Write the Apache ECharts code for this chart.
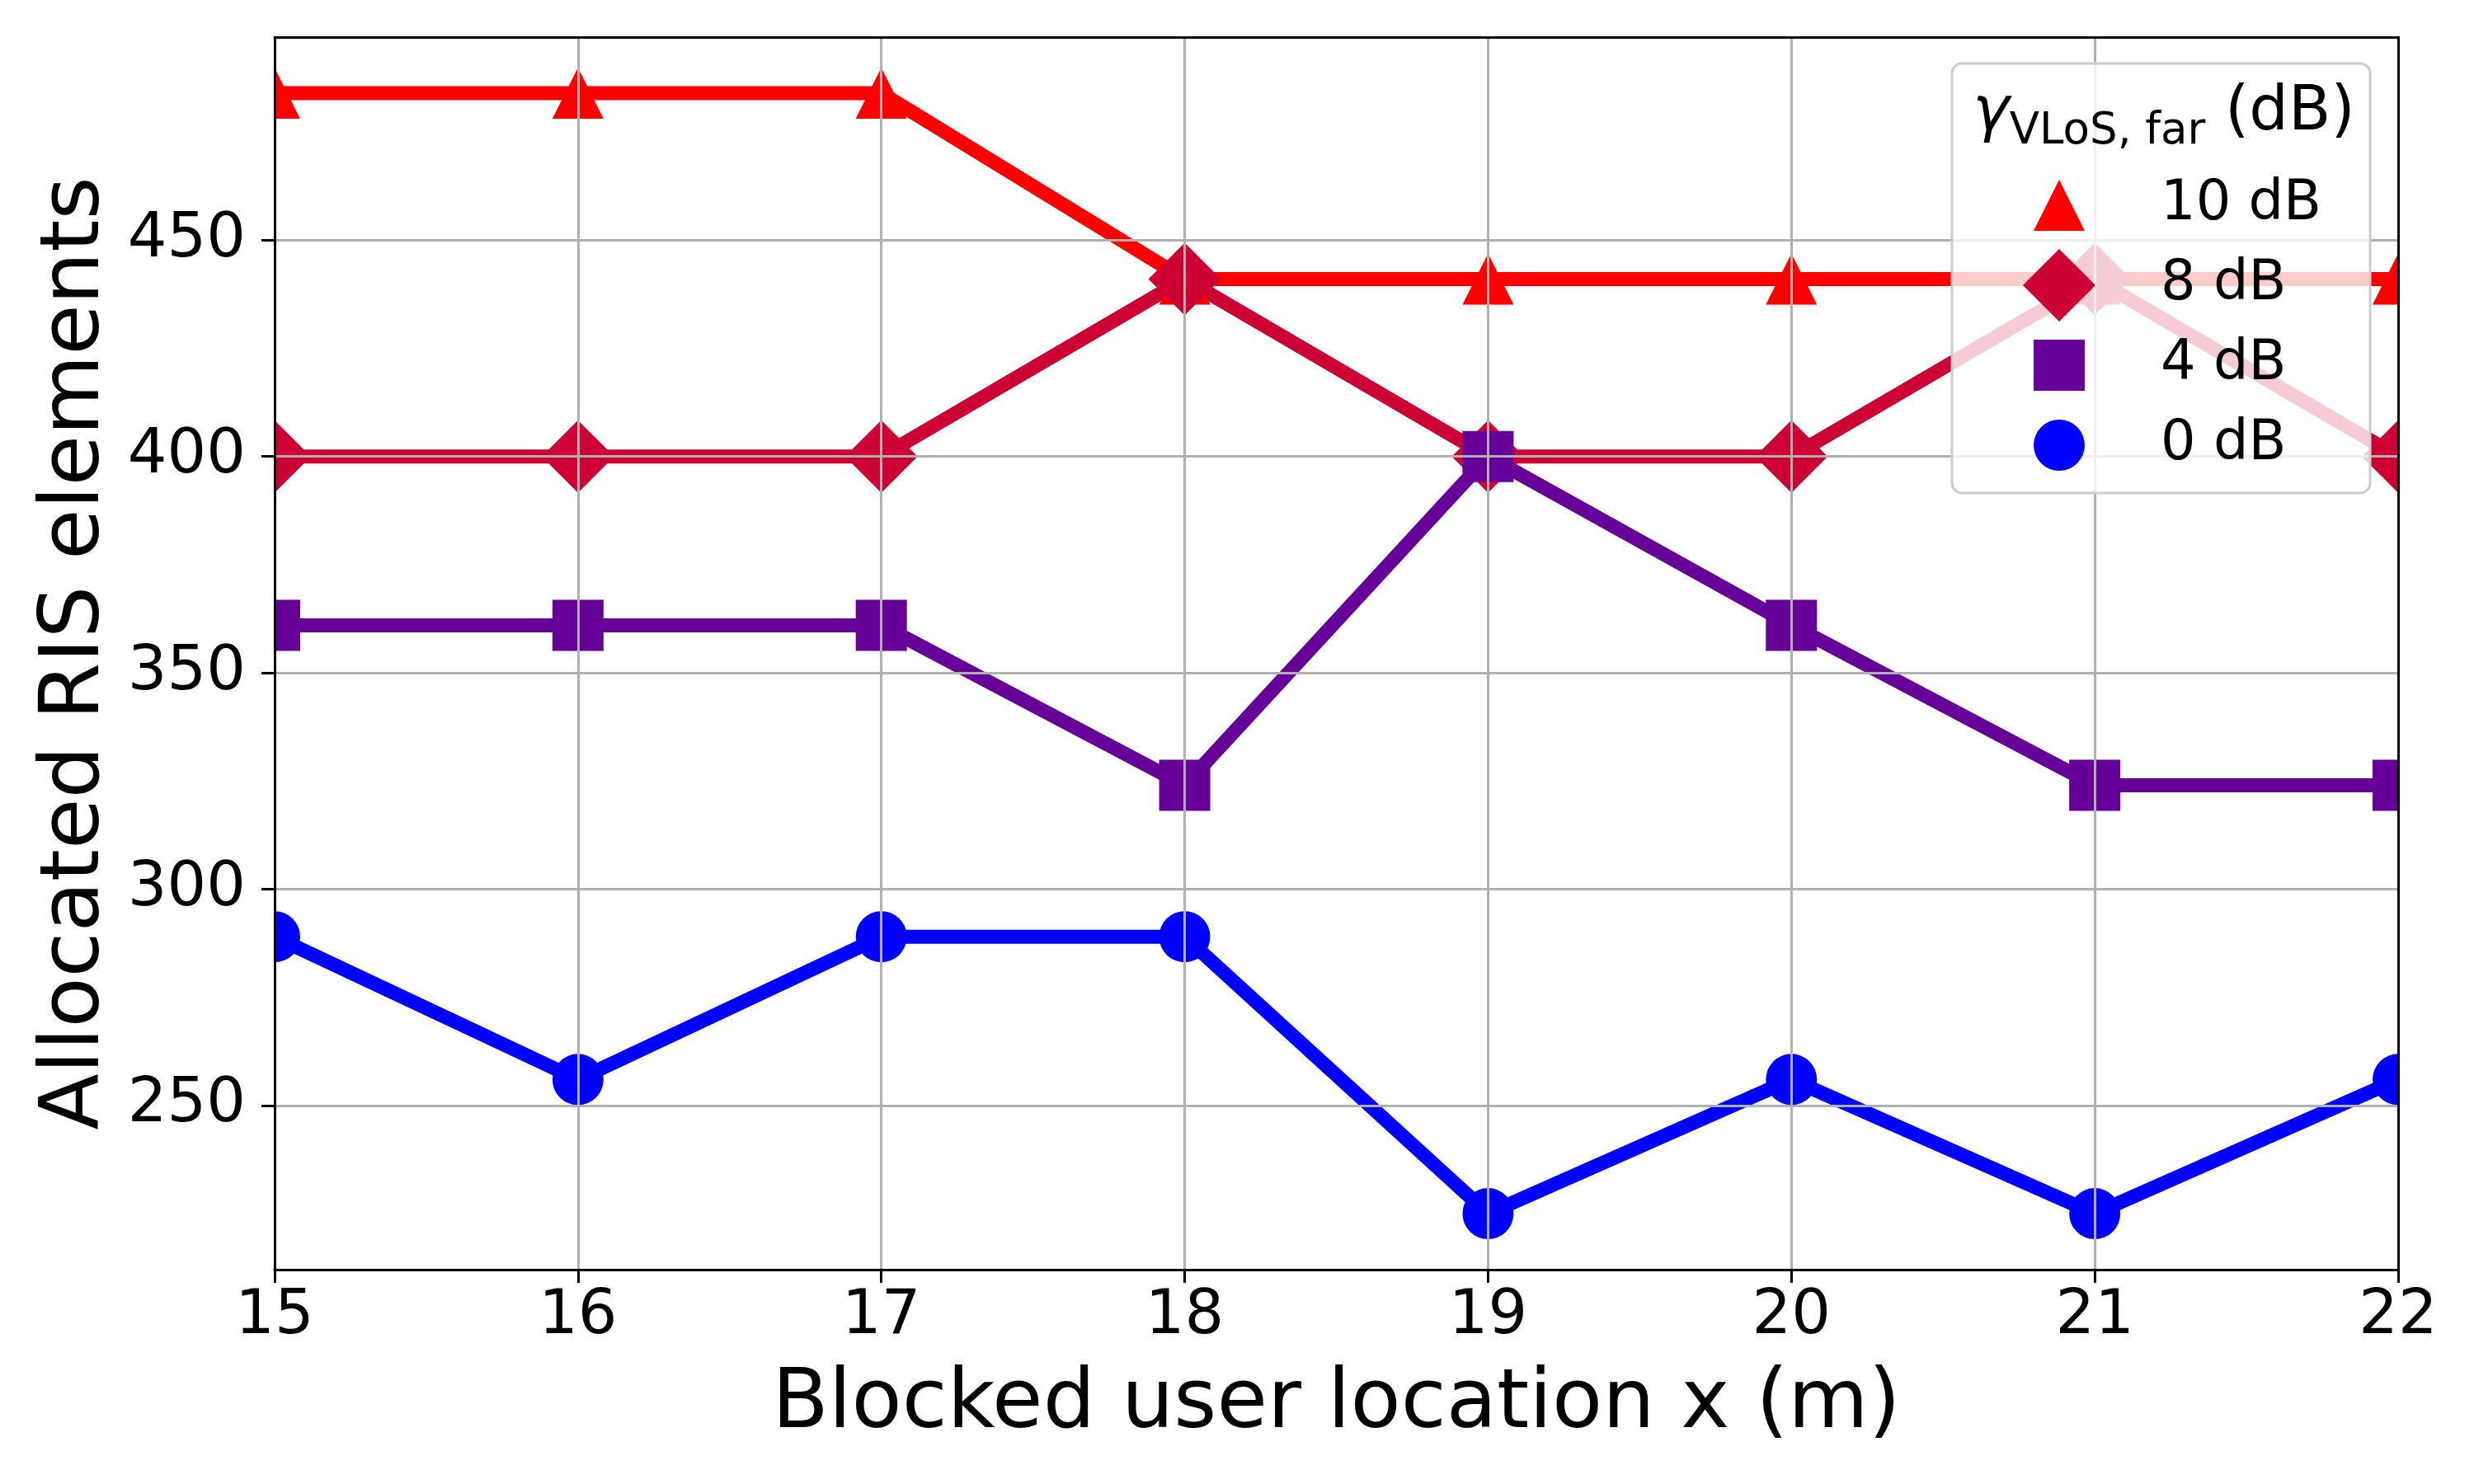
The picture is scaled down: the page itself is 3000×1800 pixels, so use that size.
<!DOCTYPE html>
<html>
<head>
<meta charset="utf-8">
<script src="https://cdn.jsdelivr.net/npm/echarts@6/dist/echarts.min.js"></script>
<style>
    html, body { margin: 0; padding: 0; background: #fff; }
    #chart { width: 3000px; height: 1800px; }
</style>
</head>
<body>
<div id="chart"></div>
<script>
    // blocked user location x (m)
    const xs = [15, 16, 17, 18, 19, 20, 21, 22];
    const names = ['10 dB', '8 dB', '4 dB', '0 dB'];
    const ris10 = [484, 484, 484, 441, 441, 441, 441, 441];
    const ris8 = [400, 400, 400, 441, 400, 400, 441, 400];
    const ris4 = [361, 361, 361, 324, 400, 361, 324, 324];
    const ris0 = [289, 256, 289, 289, 225, 256, 225, 256];
    const yTicks = [250, 300, 350, 400, 450];

    const font = 'DejaVu Sans';
    const colors = ['#ff0000', '#cc0033', '#660099', '#0000ff'];
    const symbols = ['triangle', 'diamond', 'rect', 'circle'];
    const sizes = [62, 88, 62, 62];
    // legend icons, padded so the diamond keeps its bigger size
    const icons = [
        'path://M0,0M88,88M44,13L75,75L13,75Z',
        'path://M44,0L88,44L44,88L0,44Z',
        'path://M0,0M88,88M13,13H75V75H13Z',
        'path://M0,0M88,88M13,44A31,31,0,1,0,75,44A31,31,0,1,0,13,44Z'
    ];

    const grid = { left: 333, top: 45, width: 2575, height: 1495 };
    const allData = [ris10, ris8, ris4, ris0];

    const chart = echarts.init(document.getElementById('chart'));

    const series = allData.map((vals, i) => ({
        name: names[i],
        type: 'line',
        xAxisIndex: 0,
        yAxisIndex: 0,
        z: 2,
        data: xs.map((x, j) => [x, vals[j]]),
        symbol: symbols[i],
        symbolSize: sizes[i],
        lineStyle: { color: colors[i], width: 17 },
        itemStyle: { color: colors[i], borderWidth: 0 },
        emphasis: { disabled: true },
        animation: false
    }));

    const mask = { fill: '#ffffff' };

    chart.setOption({
        backgroundColor: '#ffffff',
        animation: false,
        grid: grid,
        xAxis: [{
            type: 'value',
            min: 15,
            max: 22,
            interval: 1,
            z: 8,
            name: 'Blocked user location x (m)',
            nameLocation: 'middle',
            nameGap: 115,
            nameTextStyle: { fontFamily: font, fontSize: 100, color: '#000' },
            axisLine: { lineStyle: { color: '#000', width: 3 } },
            axisTick: { length: 16, lineStyle: { color: '#000', width: 3 } },
            axisLabel: { fontFamily: font, fontSize: 75, color: '#000', margin: 20 },
            splitLine: { show: true, lineStyle: { color: '#b0b0b0', width: 3 } }
        }, {
            type: 'value',
            position: 'top',
            min: 15,
            max: 22,
            z: 8,
            axisLine: { lineStyle: { color: '#000', width: 3 } },
            axisTick: { show: false },
            axisLabel: { show: false },
            splitLine: { show: false }
        }],
        yAxis: [{
            type: 'value',
            min: 212.05,
            max: 496.95,
            z: 8,
            name: 'Allocated RIS elements',
            nameLocation: 'middle',
            nameGap: 190,
            nameTextStyle: { fontFamily: font, fontSize: 100, color: '#000' },
            axisLine: { show: true, lineStyle: { color: '#000', width: 3 } },
            axisTick: { show: true, length: 16, customValues: yTicks, lineStyle: { color: '#000', width: 3 } },
            axisLabel: { fontFamily: font, fontSize: 75, color: '#000', margin: 35, customValues: yTicks },
            splitLine: { show: true, lineStyle: { color: '#b0b0b0', width: 3 } }
        }, {
            type: 'value',
            position: 'right',
            min: 212.05,
            max: 496.95,
            z: 8,
            axisLine: { show: true, lineStyle: { color: '#000', width: 3 } },
            axisTick: { show: false },
            axisLabel: { show: false },
            splitLine: { show: false }
        }],
        legend: {
            orient: 'vertical',
            left: 2367,
            top: 77,
            z: 10,
            itemWidth: 88,
            itemHeight: 88,
            itemGap: 9,
            padding: [128, 59, 14, 86],
            backgroundColor: 'rgba(255,255,255,0.8)',
            borderColor: '#cccccc',
            borderWidth: 3,
            borderRadius: 12,
            selectedMode: false,
            itemStyle: { borderWidth: 0 },
            textStyle: { fontFamily: font, fontSize: 67, color: '#000', padding: [0, 0, 0, 74] },
            data: names.map((n, i) => ({ name: n, icon: icons[i] }))
        },
        graphic: [
            // white masks so markers are cut at the plot edges
            { type: 'rect', z: 5, silent: true, shape: { x: 0, y: 0, width: grid.left, height: 1800 }, style: mask },
            { type: 'rect', z: 5, silent: true, shape: { x: grid.left + grid.width, y: 0, width: 200, height: 1800 }, style: mask },
            { type: 'rect', z: 5, silent: true, shape: { x: 0, y: 0, width: 3000, height: grid.top }, style: mask },
            { type: 'rect', z: 5, silent: true, shape: { x: 0, y: grid.top + grid.height, width: 3000, height: 300 }, style: mask },
            // legend title
            {
                type: 'text',
                z: 12,
                style: {
                    x: 2624,
                    y: 148,
                    align: 'center',
                    verticalAlign: 'middle',
                    text: '{g|γ}{s|VLoS, far}{m| (dB)}',
                    fill: '#000',
                    rich: {
                        g: { fontFamily: font, fontStyle: 'italic', fontSize: 75, lineHeight: 78, verticalAlign: 'bottom', padding: [0, 0, 12, 0] },
                        s: { fontFamily: font, fontSize: 53, lineHeight: 56, verticalAlign: 'bottom' },
                        m: { fontFamily: font, fontSize: 75, lineHeight: 78, verticalAlign: 'bottom', padding: [0, 0, 12, 0] }
                    }
                }
            }
        ],
        series: series
    });
</script>
</body>
</html>
